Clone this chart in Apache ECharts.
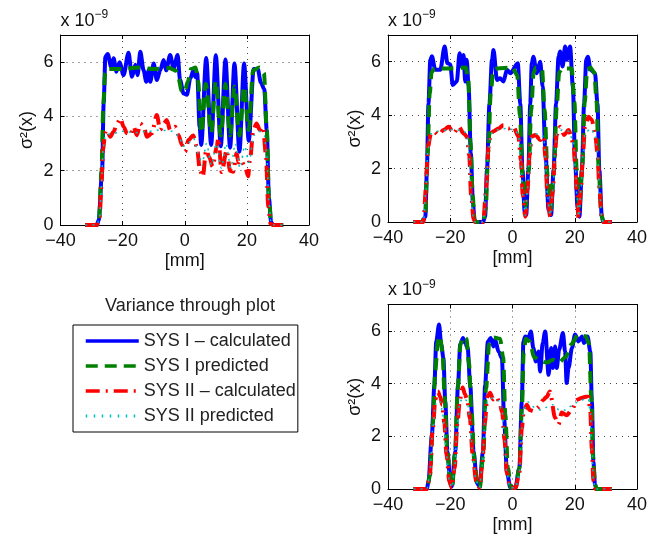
<!DOCTYPE html>
<html>
<head>
<meta charset="utf-8">
<title>Variance through plot</title>
<script src="https://cdn.jsdelivr.net/npm/echarts@6/dist/echarts.min.js"></script>
<style>
  html, body { margin: 0; padding: 0; background: #fff; }
  #chart { width: 648px; height: 539px; }
</style>
</head>
<body>
<div id="chart"></div>
<script>
// legend order / series names
const names = ['SYS I \u2013 calculated', 'SYS I predicted', 'SYS II \u2013 calculated', 'SYS II predicted']

// axes: [min, max, step]
const xRange = [-40, 40, 20]
const yRange = [0, 7, 2]

// ---- plot 1 (top left) : [mm, value x 1e-9] ----
const p1Blue = [[-32,0],[-28.3,0],[-27.7,0.18],[-26.6,2.0],[-26.1,4.5],[-25.55,6.2],[-24.8,6.3],[-23.7,5.83],[-22.9,6.14],[-22.0,5.65],[-21.0,6.0],[-19.7,5.52],[-18.1,6.35],[-17.0,5.46],[-15.9,5.9],[-15.2,5.52],[-14.3,6.38],[-13.25,5.7],[-12.4,5.28],[-11.6,5.7],[-11.1,5.28],[-10.0,5.95],[-9.0,5.34],[-7.9,5.7],[-6.8,6.08],[-6.0,5.7],[-4.7,6.26],[-3.6,5.77],[-2.3,6.26],[-1.5,5.34],[-0.4,4.85],[0.7,4.8],[1.8,5.4],[2.8,5.7],[3.4,5.45],[4.0,5.6],[4.8,3.6],[5.3,2.95],[6.9,6.15],[8.5,2.95],[10.0,6.25],[11.6,2.9],[13.1,6.1],[14.6,2.85],[16.0,5.95],[17.6,2.7],[19.1,5.95],[20.6,3.1],[22.2,5.75],[23.5,5.75],[24.5,5.25],[25.6,5.0],[26.4,3.5],[27.1,1.0],[27.8,0.1],[28.5,0],[31.7,0]]
const p1Green = [[-32,0],[-28.3,0],[-27.6,0.2],[-26.8,2.0],[-26.2,4.5],[-25.6,5.6],[-25,5.75],[-20,5.75],[-15,5.8],[-10,5.75],[-5,5.78],[-3,5.7],[-2,5.4],[-1,4.95],[0,4.9],[1,5.3],[2,5.75],[3.5,5.8],[4.3,5.3],[5.3,3.4],[6.8,5.2],[8.5,3.4],[10,5.3],[11.6,3.3],[13.1,5.2],[14.6,3.3],[16,5.1],[17.6,3.3],[19.1,5.1],[20.6,3.5],[22,5.7],[24,5.8],[25.5,5.6],[26.4,3.5],[27.1,1.0],[27.8,0.1],[28.5,0],[31.7,0]]
const p1Red = [[-32,0],[-28.3,0],[-27.4,0.3],[-26.8,1.5],[-26.3,2.8],[-25.6,3.4],[-25,3.5],[-24,3.25],[-22.9,3.44],[-21.8,3.74],[-20.7,3.93],[-19.7,3.62],[-18.6,3.38],[-17.5,3.31],[-16.5,3.62],[-15.4,3.31],[-14.3,3.74],[-13.2,3.62],[-12.2,3.25],[-10.6,3.38],[-9.0,4.05],[-7.9,3.5],[-6.8,3.74],[-5.8,3.87],[-4.7,3.5],[-3.1,3.62],[-2.0,3.31],[-0.9,2.95],[0.1,2.7],[1.2,3.13],[2.7,3.3],[3.9,2.88],[4.9,2.0],[5.8,1.78],[6.9,2.76],[7.9,2.5],[9.0,2.15],[10.3,2.88],[10.8,3.2],[11.9,1.95],[13.5,2.76],[14.6,2.0],[15.6,1.96],[16.7,2.64],[17.3,2.3],[18.0,2.4],[19.4,2.15],[20.4,1.8],[21.0,2.4],[22.1,3.5],[23.1,3.74],[24.2,3.5],[25.2,3.62],[26.1,2.64],[26.9,0.68],[27.6,0.05],[28.5,0],[31.7,0]]
const p1Cyan = [[-32,0],[-28.3,0],[-27.4,0.3],[-26.8,1.5],[-26.3,2.8],[-25.6,3.3],[-24,3.35],[-20,3.45],[-16,3.4],[-12,3.45],[-8,3.5],[-4,3.45],[-2,3.3],[-0.5,2.9],[1,3.0],[2.8,3.2],[4.5,2.6],[5.5,2.2],[7,3.0],[8.6,2.2],[10.2,3.0],[11.8,2.1],[13.3,3.0],[14.8,2.1],[16.3,3.0],[17.8,2.1],[19.3,2.9],[20.7,2.3],[22.2,3.3],[24,3.45],[25.6,3.3],[26.4,2.6],[27.1,0.8],[27.8,0.05],[28.5,0],[31.7,0]]

// ---- plot 2 (top right) ----
const p2Blue = [[-31.8,0],[-29.1,0],[-28,0.2],[-27.5,1.95],[-27,4.44],[-26.4,6.07],[-25.9,6.2],[-24.8,5.7],[-23.2,5.7],[-21.8,6.57],[-20.9,5.94],[-20,5.9],[-19.2,5.13],[-17.9,5.26],[-17.0,6.32],[-16.3,5.82],[-15.7,6.25],[-15.2,5.26],[-14.7,6.07],[-14.1,5.07],[-13.4,2.57],[-12.7,0.7],[-12.2,0.07],[-11.8,0],[-9.5,0],[-8.8,0.2],[-8.2,1.95],[-7.4,4.44],[-6.6,6.07],[-6.1,6.44],[-5.0,5.32],[-4.0,5.38],[-2.9,5.26],[-1.8,5.7],[-0.7,5.57],[1.7,5.94],[2.5,4.44],[3.2,1.95],[3.9,0.39],[4.4,0.26],[5.1,1.95],[5.7,4.44],[6.2,5.94],[6.7,6.19],[7.8,5.57],[8.9,6.0],[9.7,5.07],[10.5,2.82],[11.6,0.45],[12.4,0.26],[13.2,1.95],[14.0,4.44],[14.8,6.19],[15.3,6.38],[16.1,5.82],[16.9,6.57],[17.4,6.07],[18.5,6.57],[19.4,5.07],[20.1,2.32],[20.9,0.57],[21.5,0.2],[22.3,1.95],[23.0,4.44],[23.7,6.07],[24.2,6.19],[25.1,5.7],[26.5,5.57],[27.3,4.44],[27.9,1.95],[28.7,0.2],[29.2,0],[31.9,0]]
const p2Green = [[-31.8,0],[-29.1,0],[-28,0.3],[-27.3,2.5],[-26.6,4.8],[-26,5.6],[-25,5.75],[-20,5.75],[-15,5.78],[-14.2,5.3],[-13.5,3.0],[-12.8,1.0],[-12.2,0.1],[-11.8,0],[-9.5,0],[-8.6,0.5],[-7.8,2.6],[-7,4.8],[-6.2,5.7],[-5,5.75],[0,5.78],[1.5,5.5],[2.4,4.0],[3.2,1.7],[4.2,0.6],[5.2,1.9],[6,4.2],[6.8,5.6],[7.5,5.78],[9.5,5.7],[10.3,4.2],[11.3,1.7],[12.3,0.5],[13.3,1.9],[14.2,4.3],[15,5.6],[16,5.75],[19,5.75],[19.9,4.5],[20.6,2.0],[21.5,0.5],[22.4,2.0],[23.2,4.5],[24,5.7],[25,5.78],[26.3,5.6],[27,4.5],[27.7,2.0],[28.5,0.3],[29.2,0],[31.9,0]]
const p2Red = [[-31.8,0],[-28.6,0],[-27.8,1.3],[-27.2,2.8],[-26.2,3.3],[-25.3,3.38],[-23.75,3.26],[-22.2,3.44],[-20.5,3.57],[-18.9,3.32],[-17.3,3.57],[-15.7,3.32],[-14.7,3.2],[-13.9,2.5],[-13.3,1.0],[-12.5,0.1],[-12,0],[-9.4,0],[-8.5,1.2],[-7.7,2.8],[-7,3.3],[-6.1,3.4],[-4.5,3.5],[-2.9,3.63],[-1.3,3.5],[0.3,3.57],[1.9,3.2],[2.7,2.3],[3.3,1.0],[4.1,0.2],[4.8,1.2],[5.5,2.5],[6.2,3.2],[7.3,3.26],[8.9,3.07],[10,3.2],[10.6,2.4],[11.2,1.0],[12.1,0.2],[13,1.2],[13.6,2.5],[14.2,3.26],[15.3,3.57],[16.6,3.26],[18,3.44],[19.6,2.95],[20.2,2.0],[20.7,1.0],[21.2,0.15],[22,1.2],[22.6,2.5],[23.3,3.57],[24.4,3.94],[25.5,3.82],[26.5,3.32],[27.3,2.6],[27.9,1.3],[28.7,0.1],[29.2,0],[31.9,0]]
const p2Cyan = [[-31.8,0],[-28.6,0],[-27.8,1.2],[-27.2,2.7],[-26.2,3.3],[-24,3.4],[-21,3.45],[-18,3.45],[-15.5,3.4],[-14.6,3.2],[-13.9,2.5],[-13.3,1.0],[-12.5,0.1],[-12,0],[-9.4,0],[-8.5,1.2],[-7.7,2.7],[-7,3.3],[-5,3.45],[-2,3.5],[1,3.45],[1.9,3.2],[2.7,2.3],[3.3,1.0],[4.1,0.25],[4.8,1.2],[5.5,2.5],[6.2,3.2],[8,3.3],[10,3.2],[10.6,2.4],[11.2,1.0],[12.1,0.25],[13,1.2],[13.6,2.5],[14.2,3.3],[16,3.45],[18,3.4],[19.6,3.0],[20.2,2.0],[20.7,1.0],[21.2,0.2],[22,1.2],[22.6,2.5],[23.3,3.3],[25,3.5],[26.5,3.3],[27.3,2.6],[27.9,1.3],[28.7,0.1],[29.2,0],[31.9,0]]

// ---- plot 3 (bottom right) ----
const p3Blue = [[-31.8,0],[-27.5,0],[-27,0.28],[-25.9,2.05],[-25.1,3.95],[-24.5,5.6],[-23.6,6.24],[-22.9,5.48],[-22.2,4.97],[-21.6,3.32],[-20.9,1.42],[-20.0,0.28],[-19.5,0.09],[-18.4,1.42],[-17.5,3.95],[-16.8,5.48],[-15.9,5.73],[-15.2,5.54],[-14.4,5.35],[-13.6,3.95],[-12.5,1.42],[-11.4,0.22],[-10.6,0.09],[-9.5,1.42],[-8.8,3.95],[-7.9,5.6],[-7.0,5.73],[-6.1,5.41],[-5.6,5.67],[-4.5,5.22],[-3.4,4.97],[-2.7,2.69],[-1.8,0.66],[-0.7,0.05],[0.9,0.05],[2.2,0.79],[3.0,3.32],[3.5,5.6],[4.1,5.79],[5.1,5.73],[5.9,5.98],[6.7,5.35],[7.5,4.84],[8.3,5.22],[8.9,4.46],[9.7,5.54],[10.5,5.98],[11.6,4.33],[12.4,5.35],[13.0,4.59],[13.7,5.41],[14.2,4.59],[15.0,5.29],[16.2,5.92],[16.9,5.22],[17.4,4.02],[18.0,4.59],[19.1,5.35],[20.1,5.86],[21.2,5.6],[22.3,5.79],[23.0,5.54],[24.1,5.79],[25.0,5.22],[25.5,3.32],[26.0,1.04],[26.5,0.15],[27.0,0],[31.9,0]]
const p3Green = [[-31.8,0],[-27.5,0],[-26.5,0.5],[-25.6,2.5],[-24.8,4.5],[-24,5.6],[-23.3,5.8],[-22.5,5.2],[-21.8,3.5],[-21,1.5],[-20,0.2],[-19.4,0.05],[-18.5,1.3],[-17.6,3.8],[-16.7,5.5],[-15.8,5.78],[-14.8,5.7],[-14,4.8],[-13.2,3.0],[-12.2,1.0],[-11.2,0.1],[-10.5,0.05],[-9.4,1.3],[-8.5,3.8],[-7.5,5.5],[-6,5.75],[-4,5.7],[-3,5.0],[-2.3,2.8],[-1.5,0.8],[-0.5,0.05],[1,0.05],[2.2,0.8],[3,3.0],[3.6,5.2],[4.3,5.7],[5.5,5.6],[7,5.0],[9,4.85],[11,4.8],[13,4.9],[15,4.8],[17,5.0],[19,5.5],[21,5.85],[23.5,5.8],[24.6,5.5],[25.3,3.5],[25.9,1.2],[26.5,0.2],[27,0],[31.9,0]]
const p3Red = [[-31.8,0],[-27.5,0],[-26.6,0.5],[-25.6,2.3],[-24.8,3.4],[-24,3.7],[-23.2,3.5],[-22.6,3.2],[-21.9,2.5],[-21.2,1.3],[-20.3,0.3],[-19.5,0.05],[-18.6,0.8],[-17.7,2.5],[-16.9,3.4],[-16,3.85],[-15.3,3.6],[-14.6,3.4],[-13.7,2.7],[-12.8,1.3],[-11.7,0.3],[-10.6,0.05],[-9.7,0.9],[-8.9,2.5],[-8.1,3.5],[-7.2,3.65],[-6.2,3.4],[-5.2,3.5],[-4.2,3.3],[-3.3,2.9],[-2.6,1.9],[-1.8,0.6],[-0.8,0.05],[1,0.05],[2.2,0.6],[3.0,2.3],[3.6,2.95],[4.6,3.2],[5.5,3.0],[6.7,2.95],[8.3,3.1],[9.9,3.38],[11,3.5],[12,3.7],[13.7,2.7],[14.8,2.45],[15.8,2.9],[17.4,2.8],[19,3.0],[20.6,3.38],[22.2,3.45],[23.5,3.5],[24.4,3.5],[25,2.9],[25.5,1.5],[26,0.3],[26.6,0],[31.9,0]]
const p3Cyan = [[-31.8,0],[-27.5,0],[-26.6,0.5],[-25.6,2.3],[-24.8,3.2],[-24,3.35],[-23.2,3.3],[-22.6,3.0],[-21.9,2.4],[-21.2,1.3],[-20.3,0.3],[-19.5,0.05],[-18.6,0.8],[-17.7,2.5],[-16.9,3.3],[-16,3.45],[-14.6,3.35],[-13.7,2.7],[-12.8,1.3],[-11.7,0.3],[-10.6,0.05],[-9.7,0.9],[-8.9,2.5],[-8.1,3.3],[-6.5,3.45],[-4.5,3.35],[-3.3,2.9],[-2.6,1.9],[-1.8,0.6],[-0.8,0.05],[1,0.05],[2.2,0.6],[3.0,2.3],[3.6,3.0],[5,3.3],[7,3.1],[9,3.0],[11,3.1],[13,3.2],[15,3.0],[17,3.0],[19,3.15],[21,3.3],[23,3.4],[24.4,3.4],[25,2.9],[25.5,1.5],[26,0.3],[26.6,0],[31.9,0]]

const plots = [
  [p1Blue, p1Green, p1Red, p1Cyan],
  [p2Blue, p2Green, p2Red, p2Cyan],
  [p3Blue, p3Green, p3Red, p3Cyan]
]

// ============================================================
// layout / styles
// ============================================================
const FONT = '"Liberation Sans", Arial, Helvetica, sans-serif'
const FS = 18

const grids = [
  { left: 60.5, top: 35, width: 248.5, height: 190 },
  { left: 388, top: 35, width: 249, height: 187 },
  { left: 388, top: 304.5, width: 249, height: 184.5 }
]

const lineStyles = [
  { color: '#0000ff', width: 4, type: 'solid' },
  { color: '#008000', width: 4, type: [12, 7] },
  { color: '#ff0000', width: 4, type: [14, 6, 2, 6] },
  { color: '#00bfbf', width: 1.5, type: [2, 5] }
]

const minusFmt = v => (v < 0 ? '\u2212' + Math.abs(v) : String(v))

const xAxes = []
const yAxes = []
grids.forEach((g, i) => {
  const common = {
    gridIndex: i,
    type: 'value',
    axisLine: { show: true, onZero: false, lineStyle: { color: '#000', width: 1 } },
    axisTick: { show: true, inside: true, length: 4, lineStyle: { color: '#000' } }
  }
  xAxes.push({
    ...common,
    position: 'bottom',
    min: xRange[0], max: xRange[1], interval: xRange[2],
    name: '[mm]', nameLocation: 'middle', nameGap: 27,
    nameTextStyle: { fontFamily: FONT, fontSize: FS, color: '#111' },
    axisLabel: { margin: 7, fontFamily: FONT, fontSize: FS, color: '#111', formatter: minusFmt },
    splitLine: { show: true, lineStyle: { type: [1, 5], color: '#444', width: 1 } }
  })
  xAxes.push({
    ...common,
    position: 'top',
    min: xRange[0], max: xRange[1], interval: xRange[2],
    axisLabel: { show: false },
    splitLine: { show: false }
  })
  yAxes.push({
    ...common,
    position: 'left',
    min: yRange[0], max: yRange[1], interval: yRange[2],
    name: '\u03c3\u00b2(x)', nameLocation: 'middle', nameGap: 24, nameRotate: 90,
    nameTextStyle: { fontFamily: FONT, fontSize: FS, color: '#111' },
    axisLabel: { margin: 7, fontFamily: FONT, fontSize: FS, color: '#111', showMaxLabel: false },
    splitLine: { show: true, lineStyle: { type: [1, 5], color: '#444', width: 1 } }
  })
  yAxes.push({
    ...common,
    position: 'right',
    min: yRange[0], max: yRange[1], interval: yRange[2],
    axisLabel: { show: false },
    splitLine: { show: false }
  })
})

const series = []
plots.forEach((set, g) => {
  set.forEach((data, k) => {
    series.push({
      name: names[k],
      type: 'line',
      xAxisIndex: 2 * g,
      yAxisIndex: 2 * g,
      data: data,
      symbol: 'none',
      smooth: 0.3,
      smoothMonotone: 'x',
      lineStyle: lineStyles[k],
      itemStyle: { color: lineStyles[k].color },
      z: 2 + k
    })
  })
})

// "x 10^-9" multipliers and legend heading
const graphics = []
grids.forEach(g => {
  graphics.push({
    type: 'text',
    style: { text: 'x 10', x: g.left, y: g.top - 14, verticalAlign: 'middle', font: FS + 'px ' + FONT, fill: '#111' }
  })
  graphics.push({
    type: 'text',
    style: { text: '\u22129', x: g.left + 34, y: g.top - 20, verticalAlign: 'middle', font: '12px ' + FONT, fill: '#111' }
  })
})
graphics.push({
  type: 'text',
  style: { text: 'Variance through plot', x: 190, y: 306, align: 'center', verticalAlign: 'middle', font: '18px ' + FONT, fill: '#222' }
})

const chart = echarts.init(document.getElementById('chart'), null, { renderer: 'canvas' })
chart.setOption({
  animation: false,
  backgroundColor: '#fff',
  grid: grids.map(g => ({ ...g, show: false, containLabel: false, outerBoundsMode: 'none' })),
  xAxis: xAxes,
  yAxis: yAxes,
  legend: {
    orient: 'vertical',
    left: 73,
    top: 325,
    padding: [7, 2, 7, 11],
    itemGap: 7,
    itemWidth: 53,
    itemHeight: 18,
    borderColor: '#000',
    borderWidth: 1,
    backgroundColor: '#fff',
    selectedMode: false,
    textStyle: { fontFamily: FONT, fontSize: 18, color: '#222' },
    data: names.map((n, k) => ({
      name: n,
      itemStyle: { color: 'rgba(0,0,0,0)', borderWidth: 0, opacity: 0 },
      lineStyle: k === 3 ? { width: 3, type: [1.5, 6.5], color: lineStyles[k].color, opacity: 1 }
                         : { width: 3.5, type: lineStyles[k].type, color: lineStyles[k].color, opacity: 1 }
    }))
  },
  graphic: graphics,
  series: series
})
</script>
</body>
</html>
